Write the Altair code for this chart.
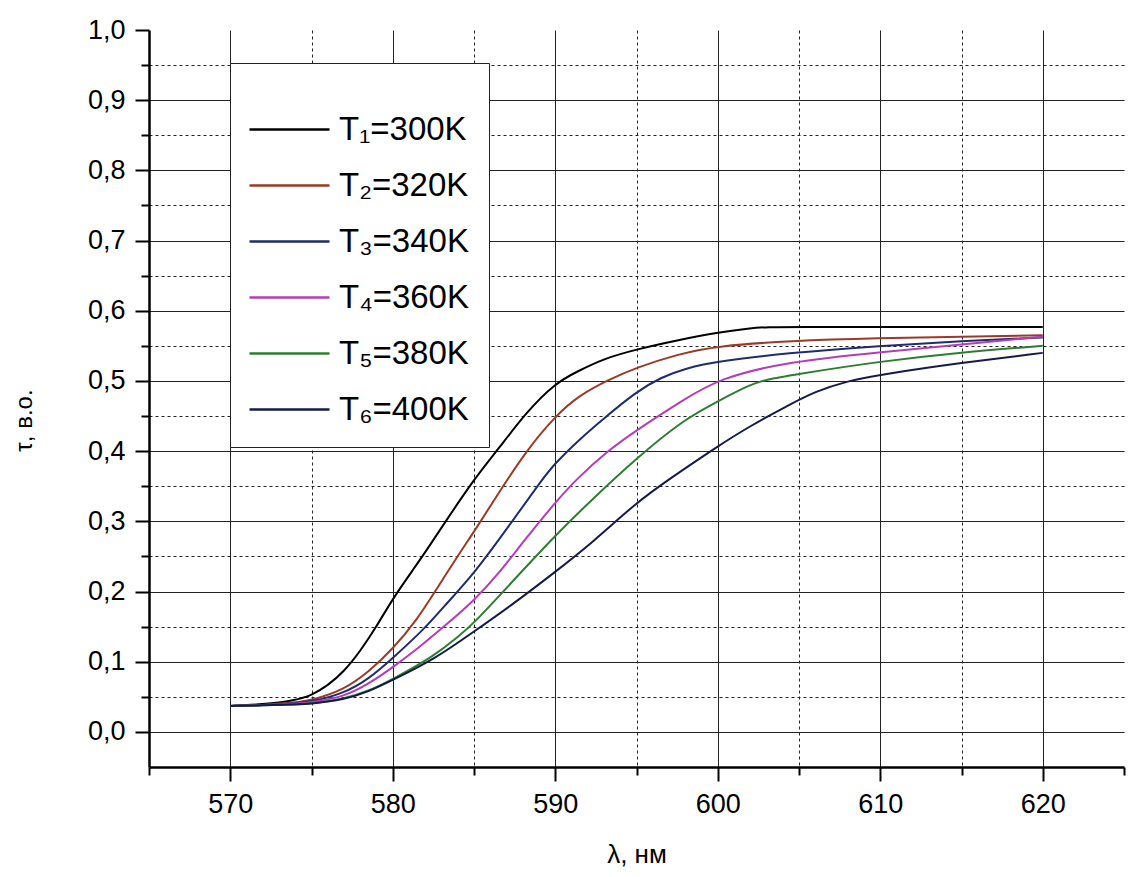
import altair as alt
import pandas as pd

# ---- data ----
series = ["T\u2081=300K", "T\u2082=320K", "T\u2083=340K", "T\u2084=360K", "T\u2085=380K", "T\u2086=400K"]
colors = ["#000000", "#9b3a26", "#1e2d6e", "#b43cb8", "#2e7d32", "#151b48"]

lam_1 = [570, 572, 574, 575, 576, 577, 578, 579, 580, 581.4, 582, 583.2, 585, 586.5, 588.2, 590, 591.4, 593, 595, 597.5, 600, 602, 603, 605, 610, 615, 620]
tau_1 = [.037, .039, .045, .052, .066, .086, .115, .15, .19, .236, .256, .298, .36, .403, .455, .497, .514, .532, .545, .558, .569, .575, .577, .577, .577, .577, .577]

lam_2 = [570, 572, 574, 575, 577, 578.5, 580, 581.5, 582.6, 584.2, 585, 586.5, 588.2, 590, 591.5, 593.3, 595, 597.5, 600, 604.4, 610, 615, 620]
tau_2 = [.037, .038, .042, .045, .06, .085, .118, .16, .2, .258, .285, .34, .40, .45, .48, .502, .519, .538, .55, .557, .561, .563, .565]

lam_3 = [570, 572, 574, 575, 577, 578.5, 580, 582, 583, 585, 587.2, 589.2, 590, 591.5, 592.9, 595, 596.5, 598, 600, 604.4, 610, 615, 620]
tau_3 = [.037, .038, .041, .043, .055, .075, .105, .148, .175, .225, .295, .36, .383, .417, .445, .485, .505, .518, .528, .54, .55, .557, .562]

lam_4 = [570, 572, 574, 575, 577, 578.5, 580, 581.5, 583.2, 585, 586.5, 588, 590, 591.3, 593.2, 595, 597.9, 600, 604.4, 610, 615, 620]
tau_4 = [.037, .038, .040, .042, .05, .068, .092, .118, .151, .187, .225, .27, .327, .36, .40, .43, .473, .503, .528, .541, .552, .563]

lam_5 = [570, 572, 574, 575, 577, 578.5, 580, 582.6, 584, 585, 587, 590, 592.3, 595, 597.9, 600, 602, 603, 604.4, 610, 615, 620]
tau_5 = [.037, .038, .039, .040, .047, .058, .075, .109, .135, .155, .205, .28, .332, .39, .445, .471, .495, .502, .508, .528, .541, .55]

lam_6 = [570, 572, 574, 575, 577, 578.5, 580, 582.6, 585, 587.4, 590, 592.3, 595, 597, 600, 602, 604.4, 606, 608, 610, 615, 620]
tau_6 = [.037, .038, .039, .040, .046, .057, .074, .104, .143, .182, .228, .27, .327, .36, .407, .436, .466, .485, .50, .509, .526, .54]

x_ticks = [565, 570, 575, 580, 585, 590, 595, 600, 605, 610, 615, 620, 625]
y_ticks = [0.0, 0.05, 0.1, 0.15, 0.2, 0.25, 0.3, 0.35, 0.4, 0.45, 0.5,
           0.55, 0.6, 0.65, 0.7, 0.75, 0.8, 0.85, 0.9, 0.95, 1.0]

x_title = "\u03bb, нм"
y_title = "\u03c4, в.о."

# ---- build table ----
rows = []
for name, lams, taus in zip(series,
                            [lam_1, lam_2, lam_3, lam_4, lam_5, lam_6],
                            [tau_1, tau_2, tau_3, tau_4, tau_5, tau_6]):
    for l, t in zip(lams, taus):
        rows.append({"series": name, "lam": l, "tau": t})
df = pd.DataFrame(rows)

FONT = "Liberation Sans"

x_major = "datum.value % 10 == 0"
y_major = "abs(datum.value * 10 - round(datum.value * 10)) < 0.001"

x_axis = alt.Axis(
    values=x_ticks,
    format="d",
    labelExpr="datum.value % 10 == 0 && datum.value >= 570 && datum.value <= 620 ? datum.label : ''",
    labelFont=FONT, labelFontSize=27, labelColor="black", labelPadding=10,
    labelOverlap=False, labelFlush=False,
    domainColor="black", domainWidth=2.5,
    tickColor="black", tickWidth=2,
    tickSize={"condition": {"test": x_major, "value": 14}, "value": 8},
    grid=True, gridColor="#222", gridWidth=1,
    gridDash={"condition": {"test": x_major, "value": []}, "value": [3, 3]},
    gridOpacity={"condition": {"test": "datum.value < 567 || datum.value > 623", "value": 0}, "value": 1},
    titleFont=FONT, titleFontSize=26, titleFontWeight="normal", titleColor="black",
    titleY=95, titleBaseline="alphabetic",
)

y_axis = alt.Axis(
    values=y_ticks,
    labelExpr=y_major + " ? replace(format(datum.value, '.1f'), '.', ',') : ''",
    labelFont=FONT, labelFontSize=27, labelColor="black", labelPadding=10,
    labelOverlap=False, labelFlush=False,
    domainColor="black", domainWidth=2.5,
    tickColor="black", tickWidth=2,
    tickSize={"condition": {"test": y_major, "value": 14}, "value": 8},
    grid=True, gridColor="#222", gridWidth=1,
    gridDash={"condition": {"test": y_major, "value": []}, "value": [3, 3]},
    gridOpacity={"condition": {"test": "datum.value > 0.99", "value": 0}, "value": 1},
    titleFont=FONT, titleFontSize=24, titleFontWeight="normal", titleColor="black",
    titleX=-125, titleY=390, titleAngle=270, titleAlign="center", titleBaseline="middle",
)

legend = alt.Legend(
    title=" ", titleFontSize=16, titlePadding=14,
    orient="none", legendX=81, legendY=33, direction="vertical",
    symbolType="M-3.4,0H12.6", symbolSize=100, symbolStrokeWidth=2.5,
    labelOffset=56, labelFont=FONT, labelFontSize=33, labelColor="black",
    rowPadding=22, padding=20,
    fillColor="white", strokeColor="#222",
)

chart = alt.Chart(df).mark_line(interpolate="basis", strokeWidth=2, clip=True).encode(
    x=alt.X("lam:Q", scale=alt.Scale(domain=[565, 625], nice=False, zero=False), axis=x_axis, title=x_title),
    y=alt.Y("tau:Q", scale=alt.Scale(domain=[-0.05, 1.0], nice=False, zero=False), axis=y_axis, title=y_title),
    color=alt.Color("series:N", scale=alt.Scale(domain=series, range=colors), legend=legend),
).properties(
    width=975, height=737,
    padding={"left": 141, "top": 22, "right": 5, "bottom": 100},
    autosize=alt.AutoSizeParams(type="none"),
    background="white",
).configure_view(strokeWidth=0)

chart.save("out.html", embed_options={"renderer": "svg", "actions": False})
